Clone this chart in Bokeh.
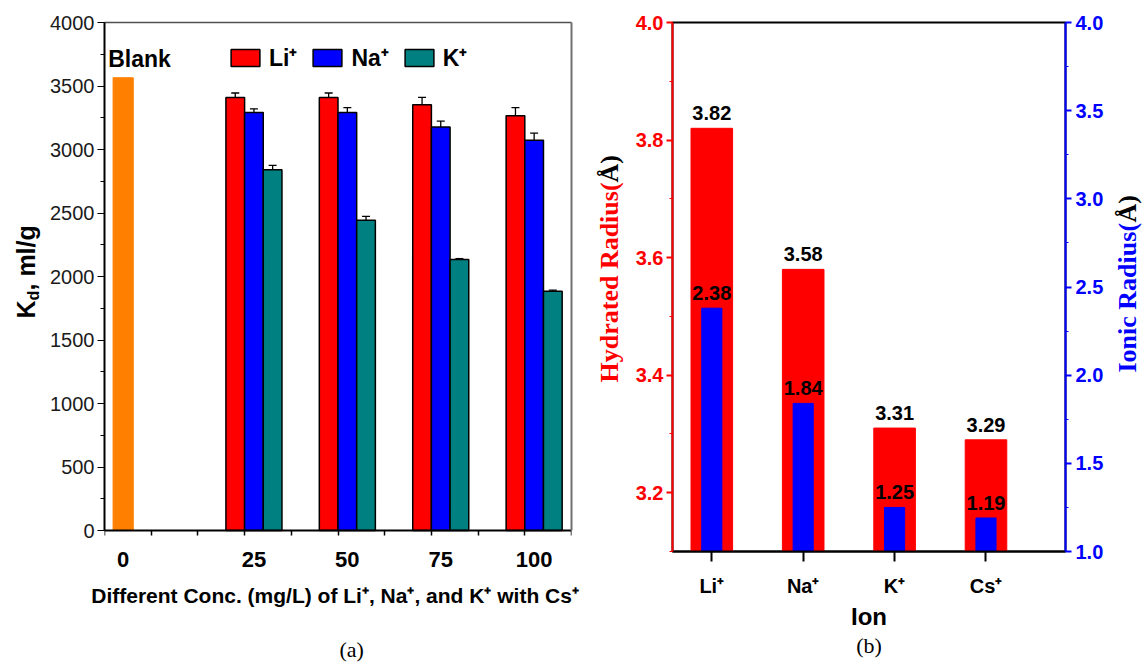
import math
from bokeh.plotting import figure
from bokeh.models import (Range1d, FixedTicker, SingleIntervalTicker, ColumnDataSource,
                          Whisker, TeeHead, Label, Legend, LegendItem, LinearAxis, PrintfTickFormatter)
from bokeh.layouts import row
from bokeh.transform import dodge
from bokeh.core.properties import value
from bokeh.embed import file_html
from bokeh.resources import INLINE

# ---------------- data, panel (a) ----------------
conc_labels = ["0", "25", "50", "75", "100"]
conc = [25, 50, 75, 100]
blank_kd = [3565]
li_kd = [3410, 3410, 3352, 3265]
li_err = [35, 35, 58, 65]
na_kd = [3291, 3291, 3178, 3073]
na_err = [29, 39, 46, 56]
k_kd = [2840, 2443, 2134, 1884]
k_err = [35, 30, 7, 9]
legend_labels = ["Li⁺", "Na⁺", "K⁺"]

# ---------------- data, panel (b) ----------------
ions = ["Li⁺", "Na⁺", "K⁺", "Cs⁺"]
hydrated_radius = [3.82, 3.58, 3.31, 3.29]
ionic_radius = [2.38, 1.84, 1.25, 1.19]

# ---------------- layout constants ----------------
H = 664
TOP = 22          # frame top (px)
FRAME_H = 529     # frame height (px), shared by all panels of the row
BOTTOM = H - TOP - FRAME_H
FB = TOP + FRAME_H
Y0_A = -165.35    # lower limit of panel (a): its axis sits 21 px above the frame bottom
BLANK_X = -10
BAR_W = 5
RED = "#FF0000"
BLUE = "#0000FF"
TEAL = "#008080"
ORANGE = "#FF8000"
GREY = "#707070"
SANS = "Liberation Sans"
SERIF = "Liberation Serif"
NBSP = "\u00a0"


def strip(width):
    s = figure(width=width, height=H, x_range=Range1d(0, width), y_range=Range1d(0, FRAME_H),
               output_backend="svg", toolbar_location=None,
               min_border_left=0, min_border_right=0, min_border_top=TOP, min_border_bottom=BOTTOM)
    s.axis.visible = False
    s.grid.visible = False
    s.outline_line_color = None
    return s


def vlabel(fig, txt, x, page_y, size, color, font, style="bold"):
    # x is the centre line of the rotated text
    fig.add_layout(Label(x=x, y=FB - page_y, text=txt, angle=math.pi / 2, text_color=color,
                         text_font=font, text_font_size=size, text_font_style=style,
                         text_align="left", text_baseline="middle"))


def plain_axis(**kw):
    return LinearAxis(ticker=FixedTicker(ticks=[]), major_tick_line_color=None,
                      minor_tick_line_color=None, major_tick_out=0, minor_tick_out=0, **kw)


# ================= strip with the K_d label =================
p0 = strip(46)
vlabel(p0, "K", 25, 318, "25px", "black", SANS)
vlabel(p0, "d", 33, 300, "16px", "black", SANS)
vlabel(p0, ", ml/g", 25, 290, "25px", "black", SANS)

# ================= panel (a) =================
p1 = figure(width=544, height=H, x_range=Range1d(-15, 110), y_range=Range1d(Y0_A, 4000),
            output_backend="svg", toolbar_location=None,
            min_border_left=58, min_border_right=19, min_border_top=TOP, min_border_bottom=BOTTOM)
p1.xgrid.visible = False
p1.ygrid.visible = False
p1.outline_line_color = None

src = ColumnDataSource(dict(
    x=conc, li=li_kd, na=na_kd, k=k_kd,
    li_up=[v + e for v, e in zip(li_kd, li_err)], li_lo=[v - e for v, e in zip(li_kd, li_err)],
    na_up=[v + e for v, e in zip(na_kd, na_err)], na_lo=[v - e for v, e in zip(na_kd, na_err)],
    k_up=[v + e for v, e in zip(k_kd, k_err)], k_lo=[v - e for v, e in zip(k_kd, k_err)],
))

p1.vbar(x=[BLANK_X], top=blank_kd, bottom=0, width=5.4, fill_color=ORANGE, line_color=ORANGE)
renderers = []
for off, col, key in [(-BAR_W, RED, "li"), (0, BLUE, "na"), (BAR_W, TEAL, "k")]:
    r = p1.vbar(x=dodge("x", off, range=p1.x_range), top=key, bottom=0, width=BAR_W, source=src,
                fill_color=col, line_color="black", line_width=1.5)
    renderers.append(r)
    w = Whisker(source=src, base=dodge("x", off, range=p1.x_range), upper=key + "_up", lower=key + "_lo",
                line_color="black", line_width=1.3,
                upper_head=TeeHead(size=8, line_color="black", line_width=1.3),
                lower_head=TeeHead(size=8, line_color="black", line_width=1.3))
    p1.add_layout(w)

legend = Legend(items=[LegendItem(label=lab, renderers=[r]) for lab, r in zip(legend_labels, renderers)],
                orientation="horizontal", location=(123, 478), glyph_width=36, glyph_height=21,
                label_text_font=SANS, label_text_font_size="23px", label_text_font_style="bold",
                label_text_color="black",
                border_line_color=None, background_fill_alpha=0, padding=0, margin=0,
                spacing=12, label_standoff=6)
p1.add_layout(legend)

p1.add_layout(Label(x=-14, y=3712, text="Blank", text_font=SANS, text_font_size="23px",
                    text_font_style="bold", text_baseline="middle", text_color="black"))

# axis line + tick marks drawn at K_d = 0
xa = p1.xaxis[0]
xa.fixed_location = 0
xa.ticker = FixedTicker(ticks=[], minor_ticks=[-15 + 12.5 * i for i in range(11)])
xa.major_tick_line_color = None
xa.major_tick_out = 0
xa.minor_tick_out = 5
xa.minor_tick_in = 0
xa.minor_tick_line_color = "black"
xa.minor_tick_line_width = 1.5
xa.axis_line_width = 2

# tick labels + axis title (no line)
xlab = LinearAxis(ticker=FixedTicker(ticks=[BLANK_X] + conc))
xlab.major_label_overrides = {t: s for t, s in zip([BLANK_X] + conc, conc_labels)}
xlab.axis_line_color = None
xlab.major_tick_line_color = None
xlab.minor_tick_line_color = None
xlab.major_tick_out = 0
xlab.minor_tick_out = 0
xlab.major_label_standoff = 0
xlab.major_label_text_font = SANS
xlab.major_label_text_font_size = "22px"
xlab.major_label_text_font_style = "bold"
xlab.major_label_text_color = "black"
xlab.axis_label = "Different Conc.  (mg/L) of Li⁺, Na⁺, and K⁺ with Cs⁺"
xlab.axis_label_text_font = SANS
xlab.axis_label_text_font_size = "21px"
xlab.axis_label_text_font_style = "bold"
xlab.axis_label_text_color = "black"
xlab.axis_label_standoff = 14
p1.add_layout(xlab, "below")

cap_a = plain_axis(axis_line_color=None, axis_label=NBSP * 5 + "(a)", axis_label_standoff=27,
                   axis_label_text_font=SERIF, axis_label_text_font_size="22px",
                   axis_label_text_font_style="normal", axis_label_text_color="black")
p1.add_layout(cap_a, "below")

ya = p1.yaxis[0]
ya.bounds = (0, 4000)
ya.ticker = SingleIntervalTicker(interval=500, num_minor_ticks=2)
ya.major_tick_out = 7
ya.major_tick_in = 0
ya.minor_tick_out = 4
ya.minor_tick_in = 0
ya.axis_line_width = 2
ya.major_label_standoff = 3
ya.major_label_text_font = SANS
ya.major_label_text_font_size = "20px"
ya.major_label_text_color = "#1a1a1a"

# grey frame lines on the right and on top of panel (a)
p1.add_layout(plain_axis(bounds=(0, 4000), axis_line_color=GREY, axis_line_width=2), "right")
p1.add_layout(plain_axis(axis_line_color="#505050", axis_line_width=1.5), "above")

# ================= strip with the hydrated-radius label =================
p4 = strip(38)
vlabel(p4, "Hydrated Radius(", 19, 382, "26px", RED, SERIF)
vlabel(p4, "Å)", 19, 182, "26px", "black", SERIF)

# ================= panel (b) =================
pos = list(range(1, len(ions) + 1))
p2 = figure(width=480, height=H, x_range=Range1d(0.57, 4.87), y_range=Range1d(3.1, 4.0),
            output_backend="svg", toolbar_location=None,
            min_border_left=44, min_border_right=43, min_border_top=TOP, min_border_bottom=BOTTOM)
p2.xgrid.visible = False
p2.ygrid.visible = False
p2.outline_line_color = "black"
p2.outline_line_width = 2
p2.extra_y_ranges = {"ionic": Range1d(1.0, 4.0)}

src2 = ColumnDataSource(dict(pos=pos, hyd=hydrated_radius, ion=ionic_radius,
                             hyd_txt=[f"{v:.2f}" for v in hydrated_radius],
                             ion_txt=[f"{v:.2f}" for v in ionic_radius]))
p2.vbar(x="pos", top="hyd", bottom=3.0, width=0.455, source=src2, fill_color=RED, line_color=RED)
p2.vbar(x="pos", top="ion", bottom=0, width=0.22, source=src2, fill_color=BLUE, line_color=BLUE,
        y_range_name="ionic")
p2.text(x="pos", y="hyd", text="hyd_txt", source=src2, text_align="center", text_baseline="middle",
        y_offset=-15, text_font=value(SANS), text_font_style="bold", text_font_size="20px", text_color="black")
p2.text(x="pos", y="ion", text="ion_txt", source=src2, text_align="center", text_baseline="middle",
        y_offset=-15, text_font=value(SANS), text_font_style="bold", text_font_size="20px", text_color="black",
        y_range_name="ionic")

bx = p2.xaxis[0]
bx.ticker = FixedTicker(ticks=pos)
bx.major_label_overrides = {p: s for p, s in zip(pos, ions)}
bx.major_tick_out = 10
bx.major_tick_in = 0
bx.major_tick_line_width = 2
bx.axis_line_width = 2
bx.major_label_standoff = 13
bx.major_label_text_font = SANS
bx.major_label_text_font_size = "20px"
bx.major_label_text_font_style = "bold"
bx.major_label_text_color = "black"
bx.axis_label = "Ion"
bx.axis_label_text_font = SANS
bx.axis_label_text_font_size = "24px"
bx.axis_label_text_font_style = "bold"
bx.axis_label_text_color = "black"
bx.axis_label_standoff = 3

cap_b = plain_axis(axis_line_color=None, axis_label="(b)", axis_label_standoff=0,
                   axis_label_text_font=SERIF, axis_label_text_font_size="22px",
                   axis_label_text_font_style="normal", axis_label_text_color="black")
p2.add_layout(cap_b, "below")

ly = p2.left[0]
ly.ticker = FixedTicker(ticks=[3.2, 3.4, 3.6, 3.8, 4.0], minor_ticks=[3.1, 3.3, 3.5, 3.7, 3.9])
ly.formatter = PrintfTickFormatter(format="%.1f")
ly.axis_line_color = RED
ly.axis_line_width = 2
ly.major_tick_line_color = RED
ly.minor_tick_line_color = RED
ly.major_tick_out = 6
ly.major_tick_in = 0
ly.minor_tick_out = 3
ly.minor_tick_in = 0
ly.major_tick_line_width = 2
ly.major_label_standoff = 3
ly.major_label_text_font = SANS
ly.major_label_text_font_size = "20px"
ly.major_label_text_font_style = "bold"
ly.major_label_text_color = RED

ry = LinearAxis(y_range_name="ionic")
ry.ticker = FixedTicker(ticks=[1.0, 1.5, 2.0, 2.5, 3.0, 3.5, 4.0], minor_ticks=[1.25, 1.75, 2.25, 2.75, 3.25, 3.75])
ry.formatter = PrintfTickFormatter(format="%.1f")
ry.axis_line_color = BLUE
ry.axis_line_width = 2
ry.major_tick_line_color = BLUE
ry.minor_tick_line_color = BLUE
ry.major_tick_out = 6
ry.major_tick_in = 0
ry.minor_tick_out = 3
ry.minor_tick_in = 0
ry.major_tick_line_width = 2
ry.major_label_standoff = 4
ry.major_label_text_font = SANS
ry.major_label_text_font_size = "20px"
ry.major_label_text_font_style = "bold"
ry.major_label_text_color = BLUE
p2.add_layout(ry, "right")

# ================= strip with the ionic-radius label =================
p3 = strip(35)
vlabel(p3, "Ionic Radius(", 19, 372, "26px", BLUE, SERIF)
vlabel(p3, "Å)", 19, 222, "26px", "black", SERIF)

layout = row(p0, p1, p4, p2, p3)
open("out.html", "w").write(file_html(layout, INLINE))
